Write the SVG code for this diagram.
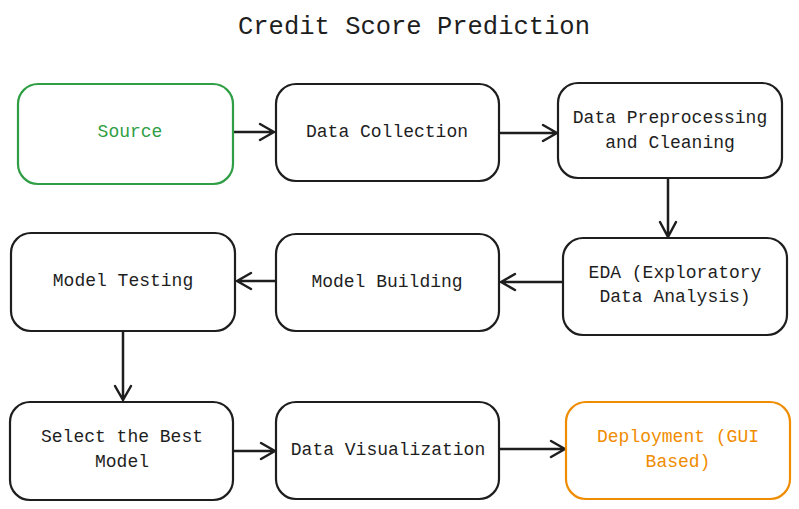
<svg xmlns="http://www.w3.org/2000/svg" width="799" height="509" viewBox="0 0 799 509">
<style>
.box{fill:#ffffff;stroke:#1e1e1e;stroke-width:2.2}
.g{stroke:#2f9e44}
.o{stroke:#f08c00}
.t{font-family:"Liberation Mono","DejaVu Sans Mono",monospace;font-size:18px;fill:#1e1e1e;text-anchor:middle;dominant-baseline:central}
.tg{fill:#2f9e44}
.to{fill:#f08c00}
.c{fill:none;stroke:#1e1e1e;stroke-width:2.5;stroke-linecap:round;stroke-linejoin:round}
</style>
<rect width="799" height="509" fill="#ffffff"/>
<text x="414" y="27" style="font-family:'Liberation Mono','DejaVu Sans Mono',monospace;font-size:25.5px;fill:#1e1e1e;text-anchor:middle;dominant-baseline:central">Credit Score Prediction</text>
<g id="connectors">
<path class="c" d="M233 132 L274 132 M260 124 L274 132 L260 140"/>
<path class="c" d="M499 133 L557 133 M543 125 L557 133 L543 141"/>
<path class="c" d="M668 178 L668 237 M660 222 L668 237 L676 222"/>
<path class="c" d="M563 282 L501 282 M515 274 L501 282 L515 290"/>
<path class="c" d="M276 281 L237 281 M251 273 L237 281 L251 289"/>
<path class="c" d="M123 331 L123 400 M115 386 L123 400 L131 386"/>
<path class="c" d="M233 451 L275 451 M261 443 L275 451 L261 459"/>
<path class="c" d="M499 449 L565 449 M551 441 L565 449 L551 457"/>
</g>
<g id="source">
<rect class="box g" x="18" y="84" width="215" height="100" rx="20"/>
<text class="t tg" x="130" y="132">Source</text>
</g>
<g id="data-collection">
<rect class="box" x="276" y="84" width="223" height="97" rx="20"/>
<text class="t" x="387" y="132">Data Collection</text>
</g>
<g id="data-preprocessing">
<rect class="box" x="558" y="83" width="224" height="95" rx="20"/>
<text class="t" x="670" y="118">Data Preprocessing</text>
<text class="t" x="670" y="143">and Cleaning</text>
</g>
<g id="eda">
<rect class="box" x="563" y="238" width="224" height="97" rx="20"/>
<text class="t" x="675" y="273">EDA (Exploratory</text>
<text class="t" x="675" y="297">Data Analysis)</text>
</g>
<g id="model-building">
<rect class="box" x="276" y="234" width="223" height="97" rx="20"/>
<text class="t" x="387" y="282">Model Building</text>
</g>
<g id="model-testing">
<rect class="box" x="11" y="233" width="224" height="98" rx="20"/>
<text class="t" x="123" y="281">Model Testing</text>
</g>
<g id="select-best">
<rect class="box" x="10" y="402" width="223" height="98" rx="20"/>
<text class="t" x="122" y="437">Select the Best</text>
<text class="t" x="122" y="462">Model</text>
</g>
<g id="data-visualization">
<rect class="box" x="276" y="402" width="223" height="97" rx="20"/>
<text class="t" x="388" y="450">Data Visualization</text>
</g>
<g id="deployment">
<rect class="box o" x="566" y="402" width="224" height="97" rx="20"/>
<text class="t to" x="678" y="437">Deployment (GUI</text>
<text class="t to" x="678" y="462">Based)</text>
</g>
</svg>
